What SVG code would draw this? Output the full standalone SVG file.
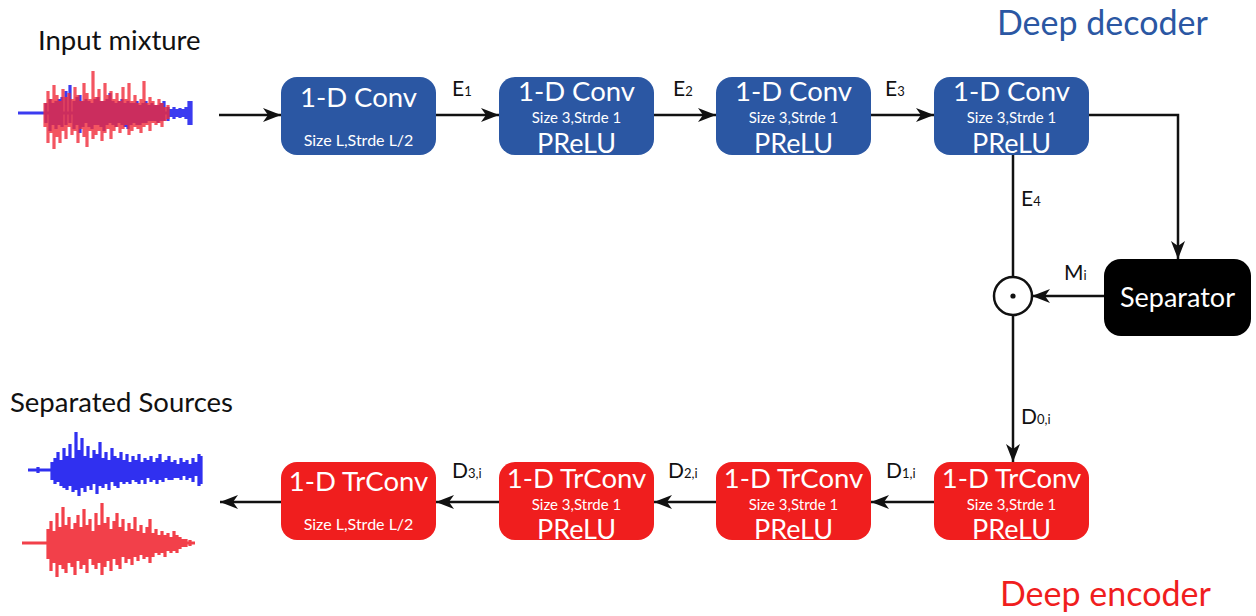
<svg xmlns="http://www.w3.org/2000/svg" width="1256" height="616" viewBox="0 0 1256 616">
  <style>
    text { font-family: Lato, "Open Sans", "Liberation Sans", sans-serif; }
    .title { font-size: 27.5px; fill: #111; }
    .enc { fill: #2b57a3; }
    .dec { fill: #f01e1e; }
    .box-title { font-size: 27.5px; fill: #fff; text-anchor: middle; }
    .box-sub { font-size: 15px; fill: #fff; text-anchor: middle; }
    .box-act { font-size: 27px; fill: #fff; text-anchor: middle; }
    .lbl { font-size: 21px; fill: #111; }
    .sub { font-size: 13px; }
    .wire { stroke: #111; stroke-width: 2.5; fill: none; }
    .arrow { stroke: #111; stroke-width: 2.5; fill: none; marker-end: url(#head); }
    .wave { fill: none; stroke-width: 3.2; stroke-linecap: butt; }
  </style>
  <defs>
    <marker id="head" markerUnits="userSpaceOnUse" markerWidth="18" markerHeight="14" refX="18" refY="7" orient="auto">
      <path d="M0,0 L18,7 L0,14 L5,7 z" fill="#111"/>
    </marker>
  </defs>

  <rect width="1256" height="616" fill="#fff"/>

  <!-- headings -->
  <text class="title" x="38" y="50">Input mixture</text>
  <text class="title" x="10" y="412">Separated Sources</text>
  <text x="997" y="35" fill="#2b57a3" style="font-size:34px">Deep decoder</text>
  <text x="1000" y="606" fill="#f01e1e" style="font-size:34px">Deep encoder</text>

  <!-- input mixture waveform -->
  <g id="wave-mix">
    <path class="wave" stroke="#3b3bf0" stroke-width="1.5" d="M18 113H192"/>
    <path class="wave" stroke="#3b3bf0" d="M46 103V123M50 99V131M53 103V125M56 101V129M59 99V125M62 97V127M66 91V125M70 85V123M74 101V129M77 97V125M80 95V133M83 101V127M86 99V123M89 101V127M92 103V129M95 99V125M98 97V125M101 101V127M104 101V131M107 99V125M110 93V123M113 101V125M116 103V127M119 101V123M122 99V125M125 103V127M128 101V129M131 103V125M134 103V123M137 101V125M140 105V125M143 103V123M146 101V123M149 105V121M152 103V121M155 105V121M158 105V123M161 103V121M164 101V121M168 107V121M171 109V117M174 107V119M177 109V117M180 108V118M183 109V117M186 107V119M189 101V125M191 101V125"/>
    <path class="wave" stroke="#f02a3a" stroke-opacity="0.8" d="M45 103V127M48 91V143M51 99V133M54 85V149M57 95V137M60 101V143M63 89V131M66 97V139M69 93V127M72 99V135M75 87V131M78 95V143M81 101V129M84 83V137M87 93V147M90 99V131M93 71V139M96 97V135M99 89V131M102 101V141M105 83V133M108 95V129M111 91V139M114 99V131M117 93V127M120 101V133M123 87V129M126 99V125M129 83V135M132 101V131M135 95V127M138 103V129M141 99V133M144 81V127M147 103V125M150 97V131M153 101V123M156 105V125M159 99V123M162 103V127M165 107V121M168 105V119"/>
  </g>

  <!-- separated source waveforms -->
  <g id="wave-src1">
    <path class="wave" stroke="#3030f0" stroke-width="1.5" d="M28 470H202"/>
    <path class="wave" stroke="#3030f0" d="M38 467V473M52 462V480M55 458V484M58 452V482M61 460V486M64 448V488M67 456V490M70 444V486M73 458V492M76 432V490M79 450V496M82 438V488M85 456V492M88 446V486M91 458V490M94 450V484M97 454V494M100 442V486M103 458V488M106 452V484M109 460V490M112 448V482M115 456V486M118 458V488M121 452V482M124 460V484M127 454V482M130 462V484M133 456V480M136 460V482M139 454V484M142 462V480M145 458V484M148 460V478M151 456V482M154 462V480M157 458V484M160 454V480M163 462V482M166 460V478M169 456V480M172 462V480M175 460V478M178 464V478M181 458V480M184 462V476M187 460V480M190 464V478M193 458V482M196 462V476M199 454V486M201 456V484"/>
  </g>
  <g id="wave-src2">
    <path class="wave" stroke="#f2404a" stroke-width="1.5" d="M22 543H195"/>
    <path class="wave" stroke="#f2404a" d="M48 529V559M51 521V571M54 531V563M57 513V577M60 527V565M63 507V569M66 525V573M69 517V563M72 529V567M75 523V575M78 515V561M81 527V569M84 509V565M87 525V573M90 519V559M93 531V565M96 513V569M99 525V563M102 503V575M105 523V567M108 517V561M111 529V571M114 521V559M117 513V565M120 527V569M123 519V557M126 531V563M129 523V559M132 529V565M135 517V557M138 531V561M141 525V555M144 533V559M147 527V557M150 519V563M153 533V557M156 529V553M159 535V555M162 531V553M165 535V557M168 533V551M171 537V553M174 531V551M177 535V553M180 537V549M183 539V547M186 539V547M190 540V546"/>
  </g>

  <!-- encoder stack (blue) -->
  <g id="conv1">
    <rect class="enc" x="281" y="77" width="155" height="78" rx="16"/>
    <text class="box-title" x="358.5" y="107">1-D Conv</text>
    <text class="box-sub" x="358.5" y="146" style="font-size:16px">Size L,Strde L/2</text>
  </g>
  <g id="conv2">
    <rect class="enc" x="499" y="77" width="155" height="78" rx="16"/>
    <text class="box-title" x="576.5" y="101">1-D Conv</text>
    <text class="box-sub" x="576.5" y="123">Size 3,Strde 1</text>
    <text class="box-act" x="576.5" y="153">PReLU</text>
  </g>
  <g id="conv3">
    <rect class="enc" x="716" y="77" width="155" height="78" rx="16"/>
    <text class="box-title" x="793.5" y="101">1-D Conv</text>
    <text class="box-sub" x="793.5" y="123">Size 3,Strde 1</text>
    <text class="box-act" x="793.5" y="153">PReLU</text>
  </g>
  <g id="conv4">
    <rect class="enc" x="934" y="77" width="155" height="78" rx="16"/>
    <text class="box-title" x="1011.5" y="101">1-D Conv</text>
    <text class="box-sub" x="1011.5" y="123">Size 3,Strde 1</text>
    <text class="box-act" x="1011.5" y="153">PReLU</text>
  </g>

  <!-- separator and masking node -->
  <g id="separator">
    <rect x="1104" y="259" width="147" height="77" rx="17" fill="#000"/>
    <text x="1177.5" y="307" fill="#fff" text-anchor="middle" style="font-size:27px">Separator</text>
  </g>
  <g id="mask-mult">
    <circle cx="1013" cy="296" r="19" fill="#fff" stroke="#111" stroke-width="2.5"/>
    <circle cx="1013" cy="296" r="2.6" fill="#111"/>
  </g>

  <!-- decoder stack (red) -->
  <g id="trconv4">
    <rect class="dec" x="934" y="462" width="155" height="78" rx="16"/>
    <text class="box-title" x="1011.5" y="488">1-D TrConv</text>
    <text class="box-sub" x="1011.5" y="510">Size 3,Strde 1</text>
    <text class="box-act" x="1011.5" y="539">PReLU</text>
  </g>
  <g id="trconv3">
    <rect class="dec" x="716" y="462" width="155" height="78" rx="16"/>
    <text class="box-title" x="793.5" y="488">1-D TrConv</text>
    <text class="box-sub" x="793.5" y="510">Size 3,Strde 1</text>
    <text class="box-act" x="793.5" y="539">PReLU</text>
  </g>
  <g id="trconv2">
    <rect class="dec" x="499" y="462" width="155" height="78" rx="16"/>
    <text class="box-title" x="576.5" y="488">1-D TrConv</text>
    <text class="box-sub" x="576.5" y="510">Size 3,Strde 1</text>
    <text class="box-act" x="576.5" y="539">PReLU</text>
  </g>
  <g id="trconv1">
    <rect class="dec" x="281" y="462" width="155" height="78" rx="16"/>
    <text class="box-title" x="358.5" y="491">1-D TrConv</text>
    <text class="box-sub" x="358.5" y="530" style="font-size:16px">Size L,Strde L/2</text>
  </g>

  <!-- connectors -->
  <g id="connectors">
    <line class="arrow" x1="219" y1="115" x2="281" y2="115"/>
    <line class="arrow" x1="436" y1="115" x2="499" y2="115"/>
    <line class="arrow" x1="654" y1="115" x2="716" y2="115"/>
    <line class="arrow" x1="871" y1="115" x2="934" y2="115"/>
    <polyline class="arrow" points="1089,115 1178,115 1178,259"/>
    <line class="wire" x1="1013" y1="155" x2="1013" y2="277"/>
    <line class="arrow" x1="1104" y1="296" x2="1032" y2="296"/>
    <line class="arrow" x1="1013" y1="315" x2="1013" y2="462"/>
    <line class="arrow" x1="934" y1="502" x2="871" y2="502"/>
    <line class="arrow" x1="716" y1="502" x2="654" y2="502"/>
    <line class="arrow" x1="499" y1="502" x2="436" y2="502"/>
    <line class="arrow" x1="281" y1="502" x2="220" y2="502"/>
  </g>

  <!-- signal labels -->
  <g id="labels">
    <text class="lbl" x="452" y="96">E<tspan class="sub">1</tspan></text>
    <text class="lbl" x="673" y="96">E<tspan class="sub">2</tspan></text>
    <text class="lbl" x="885" y="96">E<tspan class="sub">3</tspan></text>
    <text class="lbl" x="1021" y="206">E<tspan class="sub">4</tspan></text>
    <text class="lbl" x="1064" y="280">M<tspan class="sub">i</tspan></text>
    <text class="lbl" x="1021" y="424">D<tspan class="sub">0,i</tspan></text>
    <text class="lbl" x="886" y="478">D<tspan class="sub">1,i</tspan></text>
    <text class="lbl" x="668" y="478">D<tspan class="sub">2,i</tspan></text>
    <text class="lbl" x="452" y="478">D<tspan class="sub">3,i</tspan></text>
  </g>
</svg>
